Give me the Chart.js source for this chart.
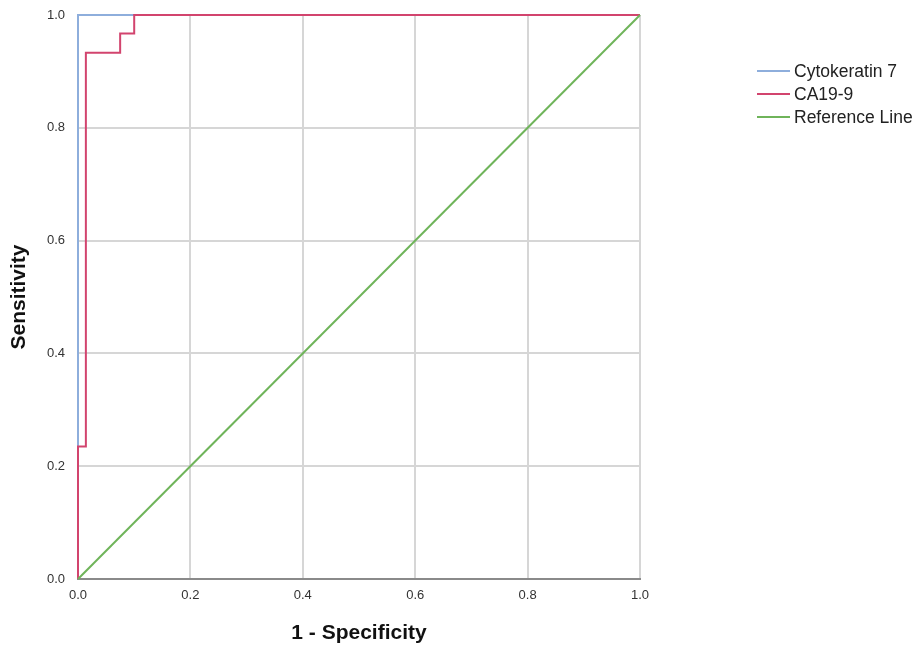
<!DOCTYPE html>
<html>
<head>
<meta charset="utf-8">
<title>ROC curve</title>
<script src="https://cdn.jsdelivr.net/npm/chart.js@4.4.1/dist/chart.umd.min.js"></script>
<style>
  html, body { margin: 0; padding: 0; background: #fff; }
  canvas { display: block; }
</style>
</head>
<body>
<canvas id="rocChart" width="914" height="646"></canvas>
<script>
// ROC curves, values
const seriesNames = ['Cytokeratin 7', 'CA19-9', 'Reference Line'];
const seriesColors = ['#8eaedc', '#d2446e', '#6fb45a'];

const ck7X = [0, 0, 1];
const ck7Y = [0, 1, 1];

const ca199X = [0, 0, 0.014, 0.014, 0.075, 0.075, 0.1, 0.1, 1];
const ca199Y = [0, 0.235, 0.235, 0.933, 0.933, 0.967, 0.967, 1, 1];

const refX = [0, 1];
const refY = [0, 1];

const tickValues = [0, 0.2, 0.4, 0.6, 0.8, 1.0];

function toPoints(xs, ys) {
  return xs.map((x, i) => ({ x: x, y: ys[i] }));
}

// line legend to the right of the plot, built from the datasets
const sideLegend = {
  id: 'sideLegend',
  afterDraw(chart) {
    const ctx = chart.ctx;
    ctx.save();
    ctx.font = '17.5px "Liberation Sans", Arial, sans-serif';
    ctx.textBaseline = 'middle';
    chart.data.datasets.forEach((ds, i) => {
      const y = 71 + i * 23;
      ctx.strokeStyle = ds.borderColor;
      ctx.lineWidth = 2;
      ctx.beginPath();
      ctx.moveTo(757, y);
      ctx.lineTo(790, y);
      ctx.stroke();
      ctx.fillStyle = '#222';
      ctx.fillText(ds.label, 794, y + 1);
    });
    ctx.restore();
  }
};

const datasets = [
  { label: seriesNames[0], data: toPoints(ck7X, ck7Y), order: 3 },
  { label: seriesNames[1], data: toPoints(ca199X, ca199Y), order: 2 },
  { label: seriesNames[2], data: toPoints(refX, refY), order: 1 }
].map((ds, i) => Object.assign(ds, {
  borderColor: seriesColors[i],
  backgroundColor: seriesColors[i],
  borderWidth: 2,
  showLine: true,
  pointRadius: 0,
  pointHoverRadius: 0,
  tension: 0,
  clip: 4
}));

const tickFont = { family: '"Liberation Sans", Arial, sans-serif', size: 13 };
const titleFont = { family: '"Liberation Sans", Arial, sans-serif', size: 21, weight: 'bold' };

new Chart(document.getElementById('rocChart'), {
  type: 'scatter',
  data: { datasets: datasets },
  plugins: [sideLegend],
  options: {
    responsive: false,
    animation: false,
    layout: { padding: { top: 15, right: 274, left: 0, bottom: 0 } },
    plugins: {
      legend: { display: false },
      tooltip: { enabled: false }
    },
    scales: {
      x: {
        type: 'linear',
        min: 0,
        max: 1,
        afterBuildTicks: axis => { axis.ticks = tickValues.map(v => ({ value: v })); },
        afterFit: axis => { axis.height = 67; },
        ticks: {
          padding: 9,
          color: '#333',
          font: tickFont,
          callback: v => Number(v).toFixed(1)
        },
        grid: { color: '#d6d6d6', lineWidth: 2, drawTicks: false },
        border: { color: '#8a8a8a', width: 2 },
        title: {
          display: true,
          text: '1 - Specificity',
          color: '#111',
          font: titleFont,
          padding: { top: 0, bottom: 0 }
        }
      },
      y: {
        type: 'linear',
        min: 0,
        max: 1,
        afterBuildTicks: axis => { axis.ticks = tickValues.map(v => ({ value: v })); },
        afterFit: axis => {
          axis.width = 78;
          axis.paddingTop = 0;
          axis.paddingBottom = 0;
        },
        ticks: {
          padding: 13,
          color: '#333',
          font: tickFont,
          callback: v => Number(v).toFixed(1)
        },
        grid: { color: '#d6d6d6', lineWidth: 2, drawTicks: false },
        border: { color: '#8a8a8a', width: 2 },
        title: {
          display: true,
          text: 'Sensitivity',
          color: '#111',
          font: titleFont,
          padding: { top: 7, bottom: 0 }
        }
      }
    }
  }
});
</script>
</body>
</html>
